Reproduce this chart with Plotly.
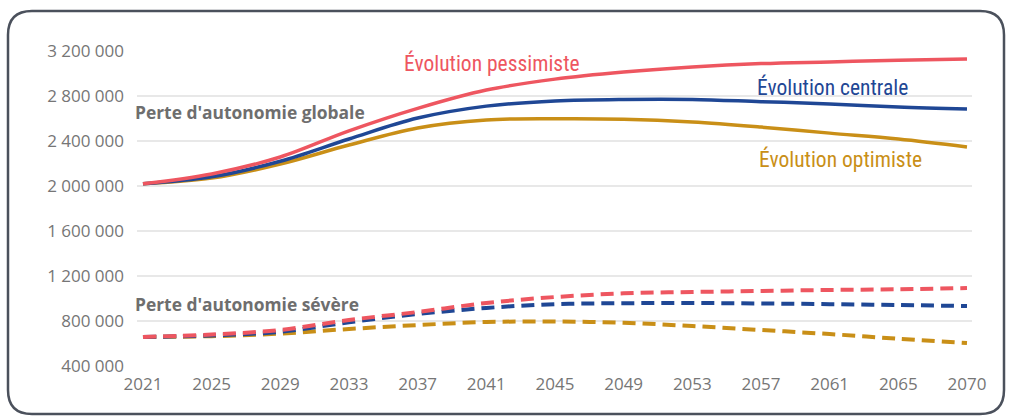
import plotly.graph_objects as go

years = ["2021", "2025", "2029", "2033", "2037", "2041", "2045", "2049",
         "2053", "2057", "2061", "2065", "2070"]

globale_pessimiste = [2020000, 2107000, 2258000, 2490000, 2690000, 2853000, 2950000,
                      3013000, 3058000, 3088000, 3103000, 3118000, 3130000]
globale_centrale = [2020000, 2082000, 2220000, 2418000, 2604000, 2710000, 2756000,
                    2770000, 2770000, 2750000, 2730000, 2702000, 2684000]
globale_optimiste = [2020000, 2070000, 2195000, 2364000, 2516000, 2587000, 2598000,
                     2594000, 2569000, 2524000, 2470000, 2418000, 2347000]

severe_pessimiste = [658000, 680000, 720000, 809000, 880000, 960000, 1013000,
                     1046000, 1058000, 1067000, 1076000, 1082000, 1093000]
severe_centrale = [658000, 672000, 704000, 789000, 862000, 916000, 950000,
                   958000, 960000, 956000, 950000, 942000, 933000]
severe_optimiste = [658000, 665000, 688000, 729000, 764000, 791000, 795000,
                    785000, 755000, 720000, 684000, 642000, 604000]

y_ticks = [400000, 800000, 1200000, 1600000, 2000000, 2400000, 2800000, 3200000]

RED = "#ee5660"
BLUE = "#1f4795"
GOLD = "#c98f17"
GREY_TXT = "#6e6e6e"

W, H = 1009, 416
L, R, T, B = 137, 37, 51, 50
PW, PH = W - L - R, H - T - B


def px(x):
    return (x - L) / PW


def py(y):
    return (H - B - y) / PH


fig = go.Figure()

for vals, col in [(globale_optimiste, GOLD), (globale_centrale, BLUE), (globale_pessimiste, RED)]:
    fig.add_trace(go.Scatter(x=years, y=vals, mode="lines",
                             line=dict(color=col, width=3.5, shape="spline", smoothing=1.0),
                             hoverinfo="skip", showlegend=False))

for vals, col in [(severe_optimiste, GOLD), (severe_centrale, BLUE), (severe_pessimiste, RED)]:
    fig.add_trace(go.Scatter(x=years, y=vals, mode="lines",
                             line=dict(color=col, width=4, shape="spline", smoothing=1.0,
                                       dash="13px,7px"),
                             hoverinfo="skip", showlegend=False))

ann_font = "Liberation Sans Narrow, Roboto Condensed, Arial Narrow, sans-serif"


def ann(text, x, y, family, size, color):
    return dict(text=text, x=px(x), y=py(y), xref="paper", yref="paper",
                xanchor="left", yanchor="middle", showarrow=False,
                font=dict(family=family, size=size, color=color))


annotations = [
    ann("<b>Perte d'autonomie globale</b>", 133, 112, "Open Sans", 17.4, GREY_TXT),
    ann("<b>Perte d'autonomie sévère</b>", 133, 304, "Open Sans", 17.4, GREY_TXT),
    ann("Évolution pessimiste", 402, 63, ann_font, 21.5, RED),
    ann("Évolution centrale", 755, 87, ann_font, 21.5, BLUE),
    ann("Évolution optimiste", 757, 159, ann_font, 21.5, GOLD),
]

# rounded frame
x0, x1, y0, y1, r = 8, 1004, 11, 414, 24
path = (f"M {px(x0 + r)},{py(y0)} L {px(x1 - r)},{py(y0)} "
        f"Q {px(x1)},{py(y0)} {px(x1)},{py(y0 + r)} "
        f"L {px(x1)},{py(y1 - r)} Q {px(x1)},{py(y1)} {px(x1 - r)},{py(y1)} "
        f"L {px(x0 + r)},{py(y1)} Q {px(x0)},{py(y1)} {px(x0)},{py(y1 - r)} "
        f"L {px(x0)},{py(y0 + r)} Q {px(x0)},{py(y0)} {px(x0 + r)},{py(y0)} Z")

fig.update_layout(
    width=W, height=H,
    margin=dict(l=L, r=R, t=T, b=B),
    paper_bgcolor="white", plot_bgcolor="white",
    separators=", ",
    font=dict(family="Open Sans", size=17, color="#767676"),
    annotations=annotations,
    shapes=[dict(type="path", path=path, xref="paper", yref="paper",
                 line=dict(color="#4b515c", width=2.5), layer="above")],
    xaxis=dict(type="category", range=[-0.087, 12.073], showgrid=False, zeroline=False,
               showline=False, ticks="", ticklabelstandoff=6,
               tickfont=dict(size=17, color="#767676"), fixedrange=True),
    yaxis=dict(range=[400000, 3200000], tickvals=y_ticks, tickformat=",d",
               showgrid=True, gridcolor="#e8e8e8", gridwidth=1.5, zeroline=False,
               showline=False, ticks="", ticklabelstandoff=12,
               tickfont=dict(size=17, color="#767676"), fixedrange=True),
)

fig.write_html("out.html")
